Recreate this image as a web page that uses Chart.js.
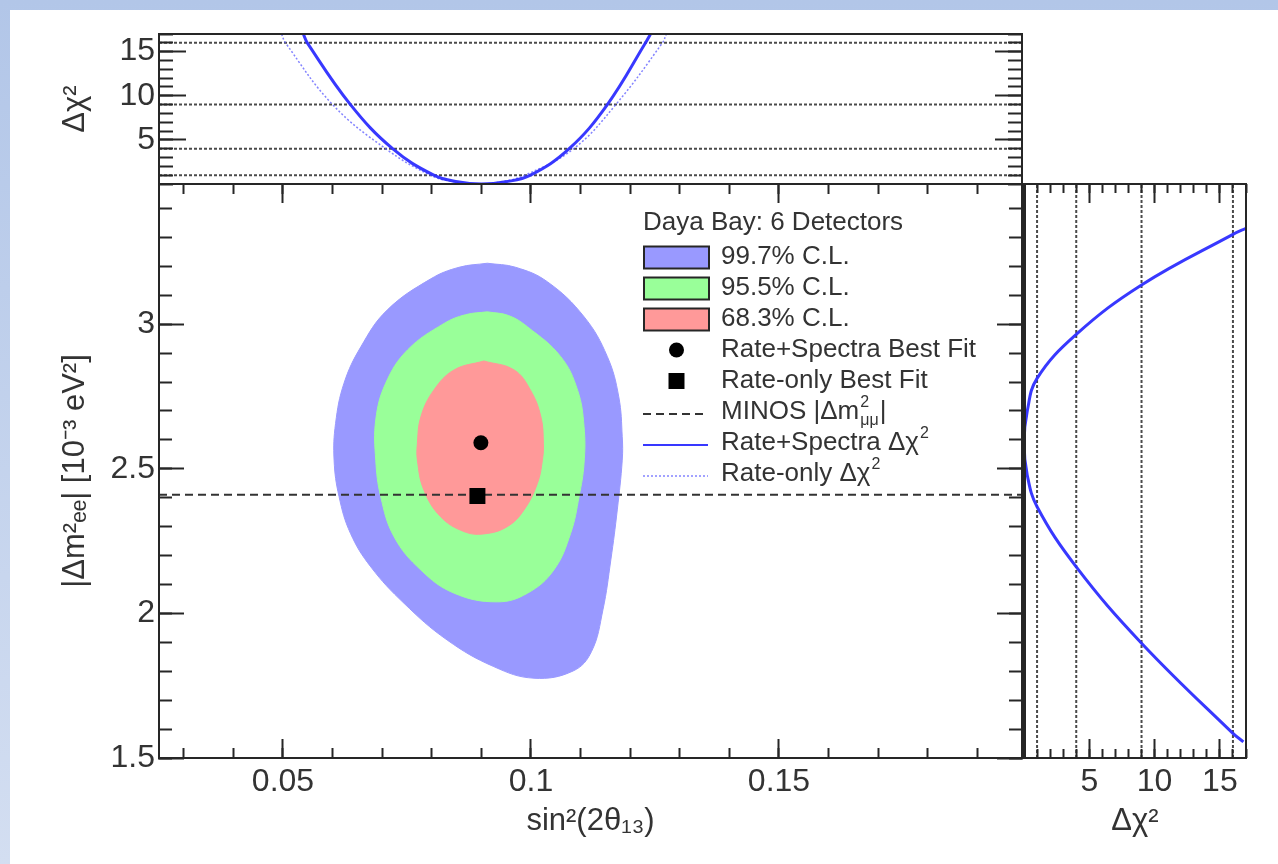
<!DOCTYPE html>
<html><head><meta charset="utf-8">
<script src="https://cdn.jsdelivr.net/npm/chart.js@4.4.1/dist/chart.umd.min.js"></script>
<style>
html,body{margin:0;padding:0;}
body{width:1278px;height:864px;position:relative;overflow:hidden;background:linear-gradient(180deg,#b2c6e8 0%,#d3def1 100%);}
#paper{position:absolute;left:10px;top:10px;right:0;bottom:0;background:#fff;}
canvas{position:absolute;left:0;top:0;}
</style></head><body>
<div id="paper"></div>
<canvas id="cMain" width="1278" height="864"></canvas>
<canvas id="cTop" width="1278" height="864"></canvas>
<canvas id="cRight" width="1278" height="864"></canvas>
<script>
// ---------------- data ----------------
const sinRange = [0.025, 0.199];
const dmRange = [1.5, 3.485];
const chiRange = [0, 17];
const sinTicks = [0.05, 0.1, 0.15];
const dmTicks = [1.5, 2, 2.5, 3];
const chiTicks = [5, 10, 15];
const clLevels = [1, 4, 9, 16];
const minosDm2 = 2.41;
const bestFitRS = [0.0899, 2.59];
const bestFitRate = [0.0892, 2.406];

const cl997Sin = [0.0912, 0.0969, 0.1033, 0.1107, 0.1154, 0.1177, 0.1184, 0.1184, 0.1174, 0.1161, 0.1145, 0.1122, 0.1085, 0.1006, 0.0925, 0.0831, 0.0744, 0.0677, 0.0636, 0.0613, 0.0603, 0.0606, 0.0623, 0.0657, 0.0710, 0.0798, 0.0855];
const cl997Dm  = [3.211, 3.197, 3.147, 3.026, 2.888, 2.749, 2.611, 2.530, 2.358, 2.185, 2.012, 1.868, 1.801, 1.776, 1.816, 1.908, 2.035, 2.161, 2.277, 2.404, 2.530, 2.657, 2.796, 2.922, 3.049, 3.157, 3.197];
const cl955Sin = [0.0912, 0.0955, 0.0993, 0.1060, 0.1094, 0.1107, 0.1107, 0.1097, 0.1080, 0.1046, 0.0993, 0.0932, 0.0845, 0.0778, 0.0724, 0.0697, 0.0687, 0.0687, 0.0707, 0.0751, 0.0825, 0.0868];
const cl955Dm  = [3.043, 3.030, 2.991, 2.888, 2.772, 2.646, 2.519, 2.404, 2.277, 2.150, 2.070, 2.040, 2.070, 2.150, 2.265, 2.404, 2.530, 2.669, 2.796, 2.911, 3.003, 3.033];
const cl683Sin = [0.0905, 0.0966, 0.0999, 0.1020, 0.1025, 0.1023, 0.1013, 0.0986, 0.0952, 0.0905, 0.0865, 0.0818, 0.0784, 0.0771, 0.0771, 0.0778, 0.0804, 0.0845];
const cl683Dm  = [2.873, 2.842, 2.772, 2.680, 2.588, 2.530, 2.450, 2.358, 2.300, 2.275, 2.283, 2.334, 2.427, 2.530, 2.588, 2.680, 2.772, 2.842];

const topChi     = [17, 16, 9, 4, 1, 0.25, 0, 0.25, 1, 4, 9, 16, 17];
const topRSSin   = [0.0541, 0.0549, 0.0636, 0.0721, 0.0804, 0.0852, 0.0900, 0.0949, 0.0999, 0.1077, 0.1154, 0.1231, 0.1241];
const topRateSin = [0.0497, 0.0505, 0.0600, 0.0707, 0.0797, 0.0844, 0.0892, 0.0940, 0.0988, 0.1086, 0.1171, 0.1265, 0.1273];

const rightChi = [17, 16, 9, 4, 1, 0.25, 0, 0.25, 1, 4, 9, 16, 16.8];
const rightDm  = [3.332, 3.311, 3.136, 2.965, 2.813, 2.700, 2.590, 2.478, 2.369, 2.161, 1.897, 1.585, 1.556];

const legendTitle = 'Daya Bay: 6 Detectors';
const legendText = [
  [{t: '99.7% C.L.'}],
  [{t: '95.5% C.L.'}],
  [{t: '68.3% C.L.'}],
  [{t: 'Rate+Spectra Best Fit'}],
  [{t: 'Rate-only Best Fit'}],
  [{t: 'MINOS |\u0394m'}, {sup: '2', sub: '\u03bc\u03bc'}, {t: '|'}],
  [{t: 'Rate+Spectra \u0394\u03c7'}, {sup: '2'}],
  [{t: 'Rate-only \u0394\u03c7'}, {sup: '2'}]
];

// ---------------- layout / style ----------------
const PAGE_W = 1278, PAGE_H = 864;
const MAIN = {left: 159, right: 1022, top: 184, bottom: 758};
const TOPP = {left: 159, right: 1022, top: 34, bottom: 184};
const RIGHTP = {left: 1024, right: 1246, top: 184, bottom: 758};
const FONT = "'Liberation Sans', Arial, Helvetica, sans-serif";
const INK = '#262626';
const TXT = '#333';
const TICK_FONT = 32, TITLE_FONT = 31, LEG_FONT = 26;

Chart.defaults.font.family = FONT;

function zip(xs, ys, close) {
  const d = xs.map((x, i) => ({x, y: ys[i]}));
  if (close) d.push({x: xs[0], y: ys[0]});
  return d;
}

function mkAxis(pos, range, o) {
  const horiz = pos === 'top' || pos === 'bottom';
  const ax = {
    type: 'linear', position: pos, min: range[0], max: range[1], weight: o.weight || 0,
    afterFit: s => {
      if (horiz) s.height = o.size; else s.width = o.size;
      s.paddingTop = 0; s.paddingBottom = 0; s.paddingLeft = 0; s.paddingRight = 0;
    },
    grid: {display: true, drawOnChartArea: false, drawTicks: !!o.tick, tickLength: -(o.tick || 0),
           tickColor: INK, tickWidth: 2, z: 1},
    border: {display: o.border !== false, color: INK, width: o.borderWidth || 2, z: 1},
    ticks: {display: !!o.labels, font: {family: FONT, size: TICK_FONT}, color: TXT, padding: o.pad || 0,
            includeBounds: false, callback: v => String(v)},
    title: o.title ? {display: true, text: o.title, font: {family: FONT, size: TITLE_FONT}, color: TXT, padding: o.titlePad}
                   : {display: false}
  };
  if (o.values) ax.afterBuildTicks = s => { s.ticks = o.values.map(v => ({value: v})); };
  else if (o.step) ax.ticks.stepSize = o.step;
  return ax;
}

const baseOpts = (padding, scales) => ({
  responsive: false, maintainAspectRatio: false, animation: false, events: [],
  layout: {padding, autoPadding: false},
  plugins: {legend: {display: false}, tooltip: {enabled: false}},
  scales
});

// ---------------- main panel ----------------
const dsRS = {data: [{x: bestFitRS[0], y: bestFitRS[1]}], pointStyle: 'circle', pointRadius: 7.5,
  backgroundColor: '#000', borderColor: '#000', borderWidth: 0, showLine: false};
const dsRate = {data: [{x: bestFitRate[0], y: bestFitRate[1]}], pointStyle: 'rect', pointRadius: 11.3,
  backgroundColor: '#000', borderColor: '#000', borderWidth: 0, showLine: false};
const dsMinos = {data: [{x: sinRange[0], y: minosDm2}, {x: sinRange[1], y: minosDm2}], showLine: true,
  borderColor: '#333', borderWidth: 2, borderDash: [8, 5], pointRadius: 0, tension: 0};
const contour = (xs, ys, col) => ({data: zip(xs, ys, true), showLine: true, fill: 'shape',
  backgroundColor: col, borderColor: col, borderWidth: 1, pointRadius: 0, tension: 0.4});
const ds683 = contour(cl683Sin, cl683Dm, '#ff9999');
const ds955 = contour(cl955Sin, cl955Dm, '#99ff99');
const ds997 = contour(cl997Sin, cl997Dm, '#9999ff');

// ---------------- top panel ----------------
const dsTopRS = {data: zip(topRSSin, topChi), showLine: true, borderColor: 'rgba(45,45,255,0.95)', borderWidth: 3,
  pointRadius: 0, tension: 0.4};
const dsTopRate = {data: zip(topRateSin, topChi), showLine: true, borderColor: 'rgba(90,90,255,0.75)', borderWidth: 1.5,
  borderDash: [2, 2], pointRadius: 0, tension: 0.4};
const clStyle = {showLine: true, borderColor: '#4a4a4a', borderWidth: 2, borderDash: [3, 2], pointRadius: 0, tension: 0};
const dsTopCL = clLevels.map(L => Object.assign({data: [{x: sinRange[0], y: L}, {x: sinRange[1], y: L}]}, clStyle));

// ---------------- right panel ----------------
const dsRight = {data: zip(rightChi, rightDm), showLine: true, borderColor: 'rgba(45,45,255,0.95)', borderWidth: 3,
  pointRadius: 0, tension: 0.4};
const dsRightCL = clLevels.map(L => Object.assign({data: [{x: L, y: dmRange[0]}, {x: L, y: dmRange[1]}]}, clStyle));

// ---------------- legend (drawn inside the main frame) ----------------
function drawRich(ctx, x, y, segs, size) {
  ctx.textBaseline = 'middle'; ctx.textAlign = 'left'; ctx.fillStyle = TXT;
  for (const s of segs) {
    if (s.t !== undefined) {
      ctx.font = `${size}px ${FONT}`; ctx.fillText(s.t, x, y); x += ctx.measureText(s.t).width;
    } else {
      const small = Math.round(size * 0.62);
      ctx.font = `${small}px ${FONT}`;
      let w = 0;
      if (s.sup) { ctx.fillText(s.sup, x + 1, y - size * 0.36); w = Math.max(w, ctx.measureText(s.sup).width); }
      if (s.sub) { ctx.fillText(s.sub, x + 1, y + size * 0.32); w = Math.max(w, ctx.measureText(s.sub).width); }
      x += w + 2;
    }
  }
}
const legendSymbols = [
  {kind: 'box', ds: ds997}, {kind: 'box', ds: ds955}, {kind: 'box', ds: ds683},
  {kind: 'pt', ds: dsRS}, {kind: 'pt', ds: dsRate},
  {kind: 'line', ds: dsMinos}, {kind: 'line', ds: dsTopRS}, {kind: 'line', ds: dsTopRate}
];
const legendPlugin = {
  id: 'rootLegend',
  afterDraw(chart) {
    const ctx = chart.ctx;
    const LX = 643, TY = 223, ROW0 = 257, ROWH = 31, SW = 65, TX = 721;
    ctx.save();
    drawRich(ctx, LX, TY, [{t: legendTitle}], LEG_FONT);
    legendSymbols.forEach((s, i) => {
      const yc = ROW0 + i * ROWH;
      const ds = s.ds;
      if (s.kind === 'box') {
        ctx.fillStyle = ds.backgroundColor; ctx.fillRect(LX + 1, yc - 10.5, SW, 22);
        ctx.lineWidth = 2; ctx.strokeStyle = INK; ctx.strokeRect(LX + 1, yc - 10.5, SW, 22);
      } else if (s.kind === 'pt') {
        ctx.fillStyle = ds.backgroundColor;
        const cx = LX + 1 + SW / 2;
        if (ds.pointStyle === 'circle') { ctx.beginPath(); ctx.arc(cx, yc, ds.pointRadius, 0, Math.PI * 2); ctx.fill(); }
        else { const h = ds.pointRadius * Math.SQRT1_2; ctx.fillRect(cx - h, yc - h, 2 * h, 2 * h); }
      } else {
        ctx.strokeStyle = ds.borderColor; ctx.lineWidth = Math.min(ds.borderWidth, 2);
        ctx.setLineDash(ds.borderDash || []);
        ctx.beginPath(); ctx.moveTo(LX, yc + 2); ctx.lineTo(LX + SW, yc + 2); ctx.stroke();
        ctx.setLineDash([]);
      }
      drawRich(ctx, TX, yc, legendText[i], LEG_FONT);
    });
    ctx.restore();
  }
};

// ---------------- charts ----------------
new Chart(document.getElementById('cMain'), {
  type: 'scatter',
  data: {datasets: [dsRS, dsRate, dsMinos, ds683, ds955, ds997]},
  options: baseOpts({left: 0, right: PAGE_W - MAIN.right, top: MAIN.top, bottom: 0}, {
    x:   mkAxis('bottom', sinRange, {size: PAGE_H - MAIN.bottom, tick: 19, values: sinTicks, labels: true, pad: 24,
                 title: 'sin\u00b2(2\u03b8\u2081\u2083)', titlePad: {bottom: 24}, weight: 1}),
    xm:  mkAxis('bottom', sinRange, {size: 0, tick: 10, step: 0.01, weight: 0, border: false}),
    xt:  mkAxis('top', sinRange, {size: 0, tick: 19, values: sinTicks, weight: 1}),
    xtm: mkAxis('top', sinRange, {size: 0, tick: 10, step: 0.01, weight: 0, border: false}),
    y:   mkAxis('left', dmRange, {size: MAIN.left, tick: 25, values: dmTicks, labels: true, pad: 29,
                 title: '|\u0394m\u00b2\u2091\u2091| [10\u207b\u00b3 eV\u00b2]', titlePad: {top: 57}, weight: 1}),
    ym:  mkAxis('left', dmRange, {size: 0, tick: 13, step: 0.1, weight: 0, border: false}),
    yr:  mkAxis('right', dmRange, {size: 0, tick: 25, values: dmTicks, weight: 1}),
    yrm: mkAxis('right', dmRange, {size: 0, tick: 13, step: 0.1, weight: 0, border: false})
  }),
  plugins: [legendPlugin]
});

new Chart(document.getElementById('cTop'), {
  type: 'scatter',
  data: {datasets: [dsTopRS, dsTopRate, ...dsTopCL]},
  options: baseOpts({left: 0, right: PAGE_W - TOPP.right, top: TOPP.top, bottom: PAGE_H - TOPP.bottom}, {
    x:   mkAxis('bottom', sinRange, {size: 0, weight: 1}),
    xt:  mkAxis('top', sinRange, {size: 0, weight: 1}),
    y:   mkAxis('left', chiRange, {size: TOPP.left, tick: 27, values: chiTicks, labels: true, pad: 31,
                 title: '\u0394\u03c7\u00b2', titlePad: {top: 57}, weight: 1}),
    ym:  mkAxis('left', chiRange, {size: 0, tick: 14, step: 1, weight: 0, border: false}),
    yr:  mkAxis('right', chiRange, {size: 0, tick: 27, values: chiTicks, weight: 1}),
    yrm: mkAxis('right', chiRange, {size: 0, tick: 14, step: 1, weight: 0, border: false})
  })
});

new Chart(document.getElementById('cRight'), {
  type: 'scatter',
  data: {datasets: [dsRight, ...dsRightCL]},
  options: baseOpts({left: RIGHTP.left, right: PAGE_W - RIGHTP.right, top: RIGHTP.top, bottom: 0}, {
    x:   mkAxis('bottom', chiRange, {size: PAGE_H - RIGHTP.bottom, tick: 19, values: chiTicks, labels: true, pad: 24,
                 title: '\u0394\u03c7\u00b2', titlePad: {bottom: 24}, weight: 1}),
    xm:  mkAxis('bottom', chiRange, {size: 0, tick: 9, step: 1, weight: 0, border: false}),
    xt:  mkAxis('top', chiRange, {size: 0, tick: 19, values: chiTicks, weight: 1}),
    xtm: mkAxis('top', chiRange, {size: 0, tick: 9, step: 1, weight: 0, border: false}),
    y:   mkAxis('left', dmRange, {size: 0, weight: 1, borderWidth: 3}),
    yr:  mkAxis('right', dmRange, {size: 0, weight: 1})
  })
});
</script>
</body></html>
